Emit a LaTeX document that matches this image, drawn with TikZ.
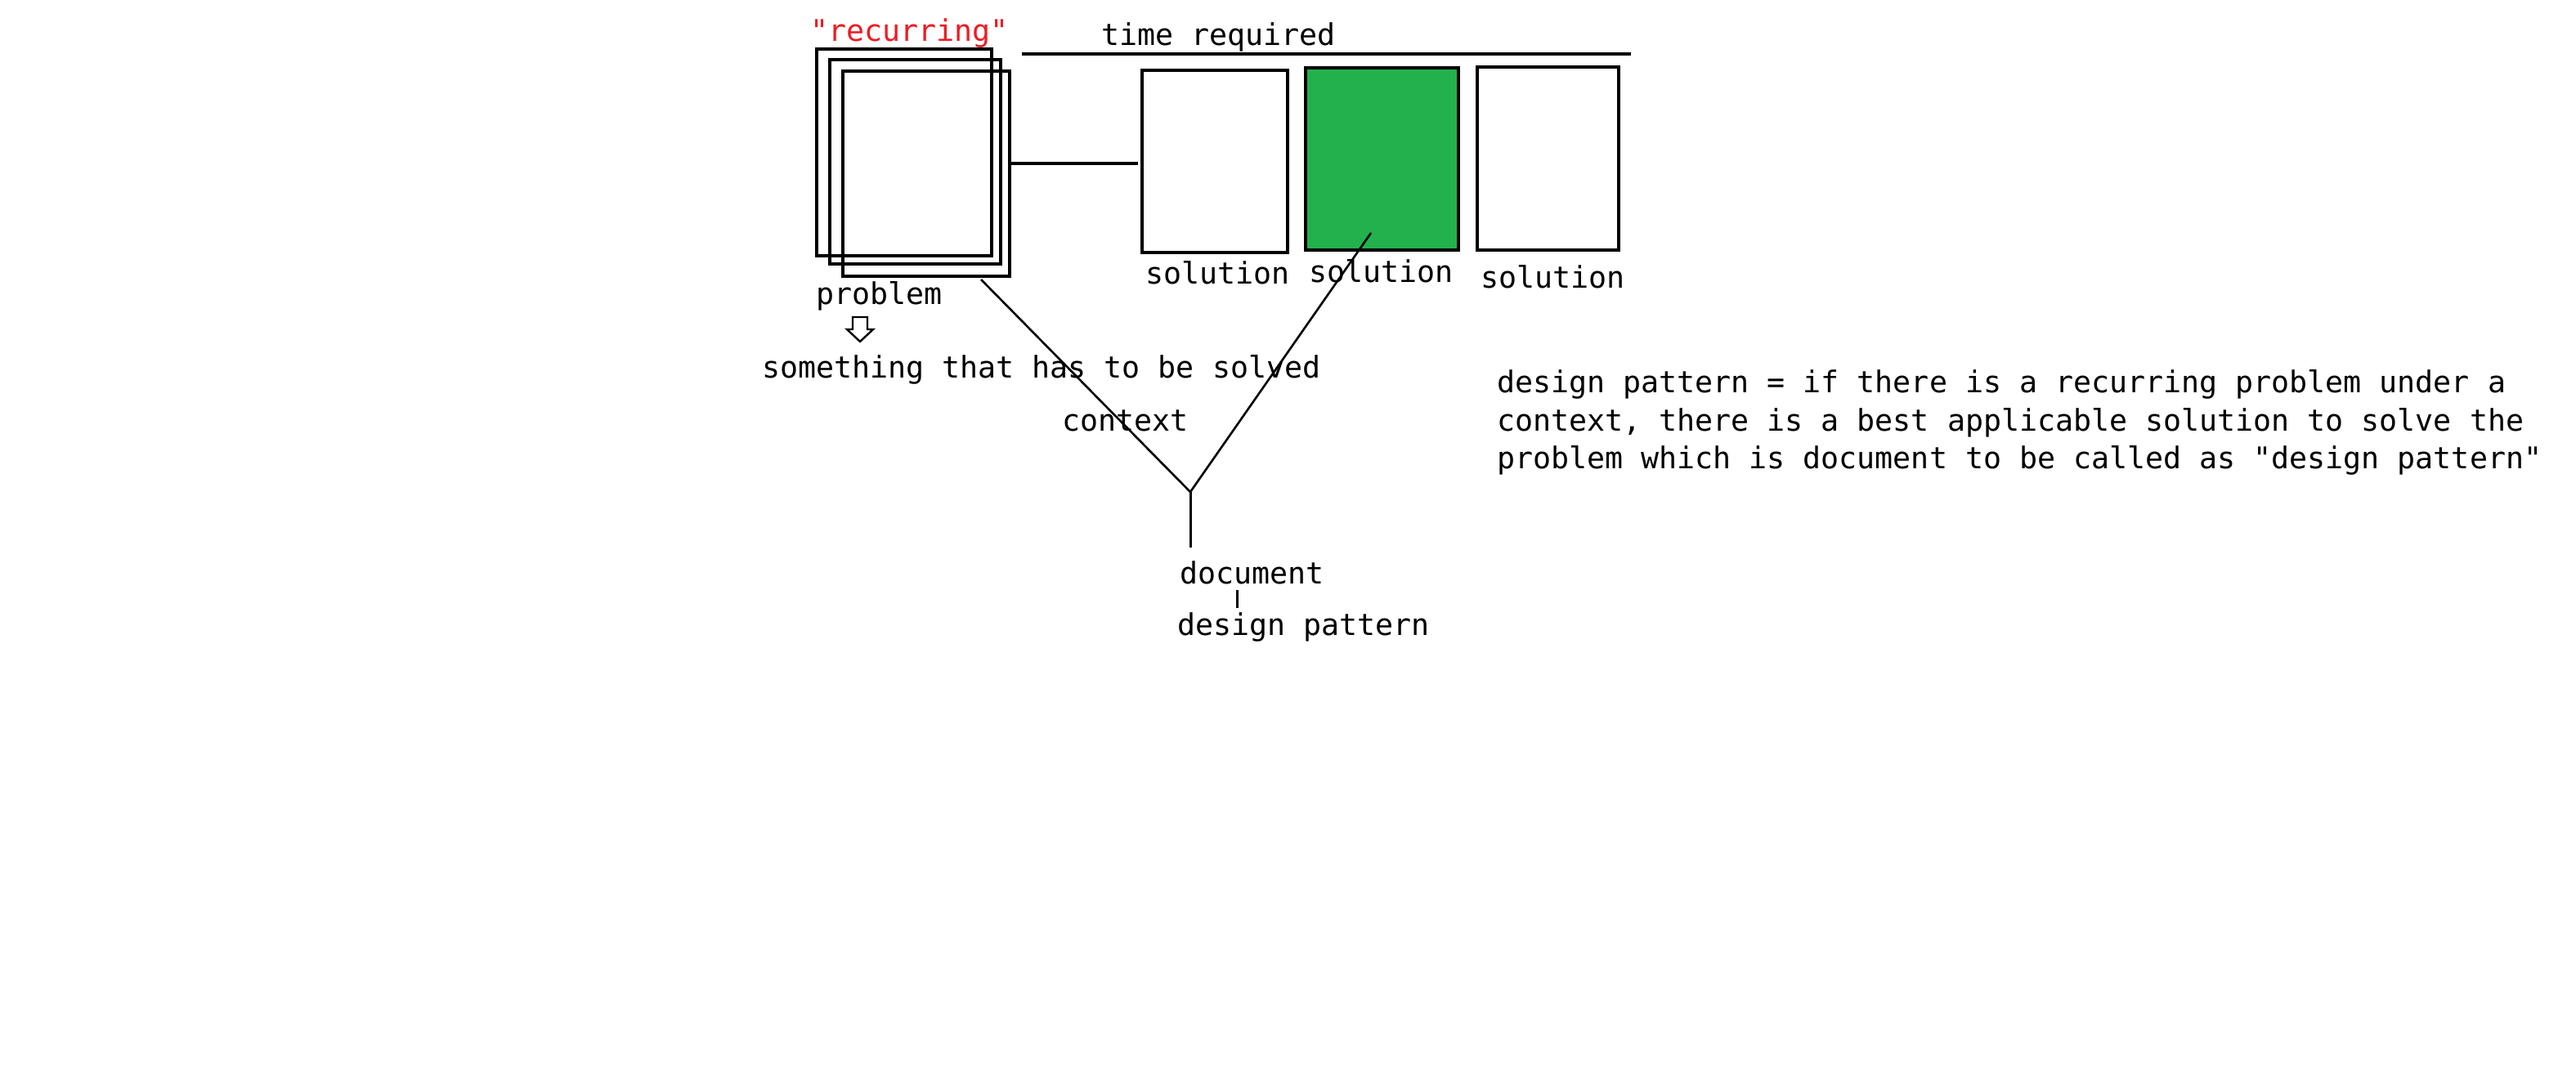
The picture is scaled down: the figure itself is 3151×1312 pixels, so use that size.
\documentclass[tikz,border=0pt]{standalone}
\usepackage{fontspec}
\newfontfamily\monofont{DejaVu Sans Mono}
\definecolor{paintgreen}{HTML}{22B14C}
\definecolor{paintred}{HTML}{ED1C24}
\begin{document}
\begin{tikzpicture}[x=1pt,y=-1pt,
  frame/.style={draw, line width=3.5pt, inner sep=0pt, outer sep=0pt, anchor=north west},
  lbl/.style={font=\monofont\fontsize{36.6}{46.7}\selectfont, inner sep=0pt, anchor=base west},
  link/.style={line width=3.5pt},
  thin link/.style={line width=2.6pt}]
\useasboundingbox (0,0) rectangle (3151,1312);
\fill[white] (0,0) rectangle (3151,1312);

% stacked problem cards
\node[frame, minimum width=214pt, minimum height=253pt] (probA) at (999,60) {};
\node[frame, minimum width=209pt, minimum height=250pt] (probB) at (1015,73) {};
\node[frame, minimum width=204pt, minimum height=251pt] (probC) at (1031,87) {};

% candidate solutions
\node[frame, minimum width=178pt, minimum height=223pt] (sol1) at (1397,86) {};
\node[frame, fill=paintgreen, minimum width=187pt, minimum height=223pt] (sol2) at (1597,83) {};
\node[frame, minimum width=173pt, minimum height=224pt] (sol3) at (1807,82) {};

% labels
\node[lbl, text=paintred] (recur) at (991,50) {"recurring"};
\node[lbl] (time) at (1347,55) {time required};
\node[lbl] (solA) at (1401,347) {solution};
\node[lbl] (solB) at (1601,345) {solution};
\node[lbl] (solC) at (1811,352) {solution};
\node[lbl] (prob) at (998,372) {problem};
\node[lbl] (solved) at (932,462) {something that has to be solved};
\node[lbl] (ctx) at (1299,527) {context};
\node[lbl] (doc) at (1443,714) {document};
\node[lbl] (dp) at (1440,777) {design pattern};

\node[lbl] (para1) at (1831,480) {design pattern = if there is a recurring problem under a};
\node[lbl] (para2) at (1831,527) {context, there is a best applicable solution to solve the};
\node[lbl] (para3) at (1831,573) {problem which is document to be called as "design pattern"};

% time axis
\coordinate (axisL) at (1250,66);
\coordinate (axisR) at (1995,66);
\draw[link] (axisL) -- (axisR);

% problem to first solution
\draw[link, shorten >=5pt] (probC.east |- 0,200) -- (sol1.west |- 0,200);

% hollow arrow under "problem"
\draw[line width=2.4pt, fill=white, line join=miter]
  (1043,388) -- (1061,388) -- (1061,403) -- (1068,403) -- (1052,418)
  -- (1036,403) -- (1043,403) -- cycle;

% context lines meeting at the document stem
\coordinate (ctxL) at (1200,342);
\coordinate (ctxR) at (1677,285);
\coordinate (jn) at (1456,602);
\coordinate (stemEnd) at (1456,670);
\draw[thin link] (ctxL) -- (jn);
\draw[thin link] (ctxR) -- (jn);
\draw[line width=3pt] (jn) -- (stemEnd);

% document to design pattern
\draw[line width=3pt] (1513,722) -- (1513,744);
\end{tikzpicture}
\end{document}
